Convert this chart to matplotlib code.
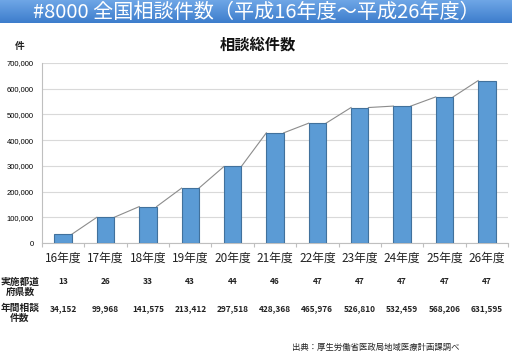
import matplotlib
matplotlib.use("Agg")
import matplotlib.pyplot as plt
import numpy as np
from matplotlib.transforms import blended_transform_factory

plt.rcParams['font.family'] = ['Noto Sans CJK JP', 'DejaVu Sans']

categories = ["16年度", "17年度", "18年度", "19年度", "20年度", "21年度",
              "22年度", "23年度", "24年度", "25年度", "26年度"]
prefectures = [13, 26, 33, 43, 44, 46, 47, 47, 47, 47, 47]
counts = [34152, 99968, 141575, 213412, 297518, 428368,
          465976, 526810, 532459, 568206, 631595]
yticks = [0, 100000, 200000, 300000, 400000, 500000, 600000, 700000]

W, H = 512, 354
fig = plt.figure(figsize=(W/100, H/100), dpi=100)

# header band with gradient
hax = fig.add_axes([0, 1-23/H, 1, 23/H])
grad = np.linspace(0, 1, 50).reshape(-1, 1)
from matplotlib.colors import LinearSegmentedColormap
cmap = LinearSegmentedColormap.from_list("hdr", ["#6ea6e6", "#3d7dcc"])
hax.imshow(grad, aspect='auto', cmap=cmap, extent=[0, 1, 0, 1])
hax.set_axis_off()
fig.text(0.5, 1-12/H, "#8000 全国相談件数（平成16年度～平成26年度）",
         ha='center', va='center', color='white', fontsize=14.5)

ax = fig.add_axes([42/W, 1-243/H, (508-42)/W, (243-63)/H])
x = np.arange(len(categories))
bw = 0.41
ax.bar(x, counts, width=bw, color="#5b9bd5", edgecolor="#41719c", linewidth=0.8, zorder=3)
# series lines connecting bar tops
for i in range(len(x)-1):
    ax.plot([x[i]+bw/2, x[i+1]-bw/2], [counts[i], counts[i+1]],
            color="#8c8c8c", linewidth=0.8, zorder=2)

ax.set_xlim(-0.5, len(x)-0.5)
ax.set_ylim(0, 700000)
ax.set_yticks(yticks)
ax.set_yticklabels([f"{v:,}" for v in yticks], fontsize=5.5, family=['Liberation Sans'])
ax.tick_params(axis='y', length=0, pad=6)
ax.set_xticks(np.arange(-0.5, len(x), 1))
ax.set_xticklabels([])
ax.tick_params(axis='x', length=3, color="#bfbfbf", direction='out')
ax.grid(axis='y', color="#d9d9d9", linewidth=0.8, zorder=0)
for s in ['top', 'right']:
    ax.spines[s].set_visible(False)
for s in ['left', 'bottom']:
    ax.spines[s].set_color("#bfbfbf")
    ax.spines[s].set_linewidth(0.8)

tr = blended_transform_factory(ax.transData, fig.transFigure)
for i, c in enumerate(categories):
    ax.text(x[i], 1-258/H, c, transform=tr, ha='center', va='center',
            fontsize=8.5, color="#222222")
    ax.text(x[i], 1-282/H, str(prefectures[i]), transform=tr, ha='center', va='center',
            fontsize=6, fontweight='bold', color="#222222")
    ax.text(x[i], 1-309/H, f"{counts[i]:,}", transform=tr, ha='center', va='center',
            fontsize=6, fontweight='bold', color="#222222")

fig.text(20/W, 1-287/H, "実施都道\n府県数", ha='center', va='center', fontsize=7,
         fontweight='bold', linespacing=1.1, color="#222222")
fig.text(20/W, 1-313/H, "年間相談\n件数", ha='center', va='center', fontsize=7,
         fontweight='bold', linespacing=1.1, color="#222222")

fig.text(258/W, 1-45/H, "相談総件数", ha='center', va='center', fontsize=11,
         fontweight='bold', color="#111111")
fig.text(20/W, 1-46/H, "件", ha='center', va='center', fontsize=7,
         fontweight='bold', color="#222222")
fig.text(376/W, 1-347/H, "出典：厚生労働省医政局地域医療計画課調べ", ha='center', va='center',
         fontsize=6, color="#222222")

fig.savefig("out.png", dpi=100)
